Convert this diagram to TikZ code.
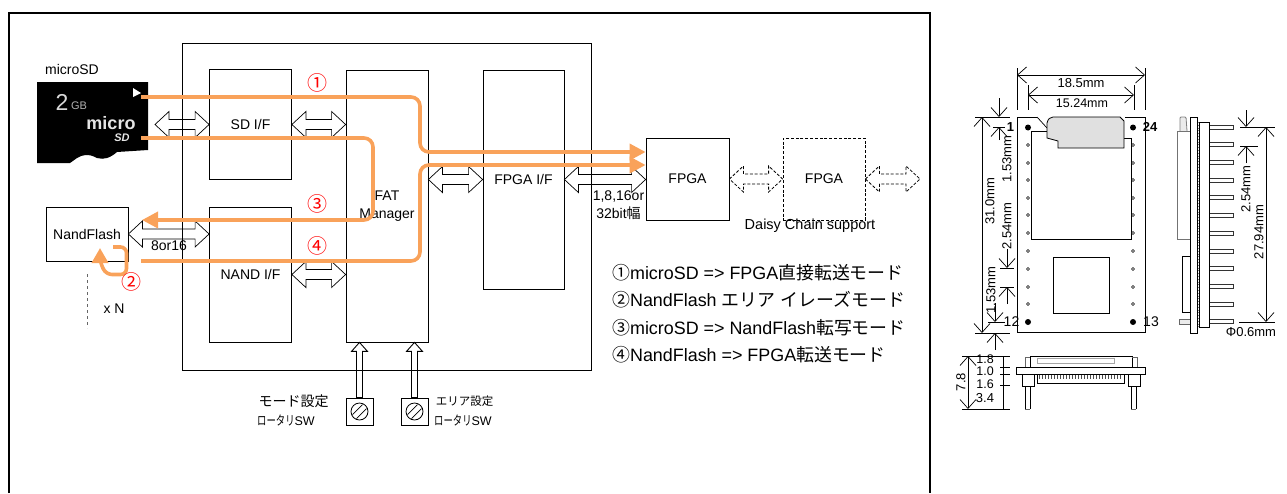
\documentclass[tikz,border=0pt]{standalone}
\usepackage{fontspec}
\setmainfont{Liberation Sans}
\newfontfamily\cjk{Noto Sans CJK JP}
\usetikzlibrary{arrows.meta,calc}
\definecolor{flow}{HTML}{F9A25A}
\newcommand\fs[1]{\fontsize{#1}{#1}\selectfont}
\newcommand\J[1]{{\cjk #1}}
\tikzset{
  box/.style={draw=black,line width=.8pt,inner sep=0pt,align=center,font=\fs{14}},
  lbl/.style={inner sep=0pt,align=center,font=\fs{14}},
  num/.style={inner sep=0pt,text=red,font=\cjk\fs{20}},
  legend/.style={inner sep=0pt,anchor=west,font=\fs{17.9}},
  flowline/.style={draw=flow,line width=3.6pt,rounded corners=9pt},
  flowhead/.style={flowline,-{Triangle[length=16pt,width=16pt]}},
  blockarrow/.style={draw=black,line width=.7pt},
  dashblock/.style={dash pattern=on 3pt off 1.8pt,line width=.8pt},
  dim/.style={line width=.7pt,draw=black},
  dimtip/.style={dim,-{Straight Barb[length=9pt,width=16pt]}},
  dimboth/.style={dim,{Straight Barb[length=9pt,width=16pt]}-{Straight Barb[length=9pt,width=16pt]}},
  dimtxt/.style={inner sep=0pt,font=\fs{13}},
  part/.style={draw=black,line width=.7pt},
}
\newcommand\dbl[3][]{\draw[blockarrow,#1] let \p1=(#2),\p2=(#3) in
  (\x1,\y1) -- ({\x1+14pt},{\y1+13pt}) -- ({\x1+14pt},{\y1+5pt}) -- ({\x2-14pt},{\y1+5pt}) -- ({\x2-14pt},{\y1+13pt})
  -- (\x2,\y1) -- ({\x2-14pt},{\y1-13pt}) -- ({\x2-14pt},{\y1-5pt}) -- ({\x1+14pt},{\y1-5pt}) -- ({\x1+14pt},{\y1-13pt}) -- cycle;}
\newcommand\uparr[2]{\draw[blockarrow,line width=.9pt] let \p1=(#1),\p2=(#2) in
  (\x2,\y2) -- ({\x2+8pt},{\y2-9pt}) -- ({\x2+3pt},{\y2-9pt}) -- ({\x2+3pt},\y1) -- ({\x2-3pt},\y1) -- ({\x2-3pt},{\y2-9pt}) -- ({\x2-8pt},{\y2-9pt}) -- cycle;}
\newcommand\rotlabel{\scalebox{.72}[1]{\J{\fs{13}ロータリ}}\fs{12.5}SW}
\begin{document}
\begin{tikzpicture}[x=1pt,y=-1pt]
\useasboundingbox (0,0) rectangle (1287,493);
% frame
\draw[line width=2pt] (8.5,493) -- (8.5,12.5) -- (930,12.5) -- (930,493);
% outer block
\node[box,minimum width=409pt,minimum height=327pt] (outer) at (386.5,206.5) {};
% blocks
\node[box,minimum width=82pt,minimum height=110pt] (sdif) at (250.5,124.5) {SD I/F};
\node[box,minimum width=82pt,minimum height=135pt] (nandif) at (250.5,274.5) {NAND I/F};
\node[box,minimum width=82pt,minimum height=272pt] (fat) at (387,206) {FAT\\[4pt]Manager};
\node[box,minimum width=81pt,minimum height=219pt] (fpgaif) at (523.5,179.5) {FPGA I/F};
\node[box,minimum width=83pt,minimum height=82pt] (fpga) at (687.5,179) {FPGA};
\node[box,dash pattern=on 3pt off 1.8pt,minimum width=82pt,minimum height=82pt] (fpgb) at (824,179) {FPGA};
\node[box,minimum width=82pt,minimum height=54pt] (flash) at (87,234) {NandFlash};
% microSD card
\node[lbl] (sdlabel) at (72,69) {microSD};
\fill[black] (37,82) -- (148,82) -- (148,150) -- (117,152) .. controls (110,158) and (104,160) .. (97,158)
  .. controls (88,153) and (82,155) .. (77,158) -- (70,163) -- (37,163) -- cycle;
\fill[white] (133,88) -- (141,93) -- (133,97) -- cycle;
\node[inner sep=0pt,text=white!85!black,font=\fs{23}] (cap2) at (62,102) {2};
\node[inner sep=0pt,text=white!70!black,font=\fs{11}] (capgb) at (79,106) {GB};
\node[inner sep=0pt,text=white!90!black,font=\bfseries\fs{18}] (capmicro) at (111,123.5) {micro};
\node[inner sep=0pt,text=white!90!black,font=\bfseries\itshape\fs{11}] (capsd) at (122,137.5) {SD};
% block arrows
\coordinate (sdedge) at (155,124.5);
\dbl{sdedge}{sdif.west}
\dbl{sdif.east}{fat.west|-sdif.east}
\dbl{flash.east}{nandif.west|-flash.east}
\dbl{nandif.east}{fat.west|-nandif.east}
\dbl{fat.east|-fpgaif.west}{fpgaif.west}
\dbl{fpgaif.east}{fpga.west}
\dbl[dashblock]{fpga.east}{fpgb.west}
\coordinate (chainend) at (920,179);
\dbl[dashblock]{fpgb.east}{chainend}
% labels
\node[lbl] (w8) at (169,246) {8or16};
\node[lbl] (w32) at (618.5,205) {1,8,16or\\[4pt]32bit\J{幅}};
\node[lbl,font=\fs{14.5}] (daisy) at (810,226) {Daisy Chain support};
\node[lbl] (xn) at (114,309) {x N};
\coordinate (na) at (87,274); \coordinate (nb) at (87,328);
\draw[dashed,draw=black!60,line width=.8pt] (na) -- (nb);
% orange flows
\coordinate (s1) at (141,97); \coordinate (b1) at (420,97); \coordinate (c1) at (420,152);
\draw[flowhead] (s1) -- (b1) -- (c1) -- (c1-|fpga.west);
\coordinate (s3) at (141,138); \coordinate (b3) at (373,138); \coordinate (c3) at (373,220); \coordinate (e3) at (142,220);
\draw[flowhead] (s3) -- (b3) -- (c3) -- (e3);
\coordinate (s4) at (141,261); \coordinate (b4) at (420,261); \coordinate (c4) at (420,165);
\draw[flowhead] (s4) -- (b4) -- (c4) -- (c4-|fpga.west);
\coordinate (s2) at (113,247); \coordinate (e2) at (100,248);
\draw[flowline,rounded corners=6pt,-{Triangle[length=15pt,width=16pt]}] (s2) -- (126.5,247) -- (126.5,274.5) -- (106,274.5) -- (100,262) -- (e2);
\node[num] (n1) at (317,83) {①};
\node[num] (n3) at (317,204) {③};
\node[num] (n4) at (317,246) {④};
\node[num] (n2) at (131,282) {②};
% legend
\node[legend] (l1) at (612,272.5) {\J{①}microSD => FPGA\J{直接転送モード}};
\node[legend] (l2) at (612,300) {\J{②}NandFlash \J{エリア\hspace{.3em}イレーズモード}};
\node[legend] (l3) at (612,327.5) {\J{③}microSD => NandFlash\J{転写モード}};
\node[legend] (l4) at (612,355) {\J{④}NandFlash => FPGA\J{転送モード}};
% rotary switches
\foreach \n/\x in {swa/359.5,swb/414.5}{
  \node[box,minimum width=27pt,minimum height=27pt] (\n) at (\x,411.5) {};
  \draw[line width=.8pt] (\n.center) circle (8.5pt);
  \draw[line width=.7pt] ($(\n.center)+(-7,3)$) -- ($(\n.center)+(3,-7)$);
  \draw[line width=.7pt] ($(\n.center)+(-3,7)$) -- ($(\n.center)+(7,-3)$);
}
\uparr{swa.north}{swa.north|-fat.south}
\uparr{swb.north}{swb.north|-fat.south}
\node[lbl,font=\cjk\fs{14}] (m1) at (293.5,401) {モード設定};
\node[lbl] (m2) at (286,420) {\rotlabel};
\node[lbl,font=\cjk\fs{11.5}] (a1) at (464.5,401) {エリア設定};
\node[lbl] (a2) at (463,420) {\rotlabel};
% ---- top view of module
\draw[part] (1037,117) -- (1017,117) -- (1017,332) -- (1145,332) -- (1145,117) -- (1125,117);
\draw[part] (1037,117) -- (1047,128);
\draw[part,line width=.8pt] (1047,131) -- (1031,131) -- (1031,239) -- (1131,239) -- (1131,138) -- (1124,138);
\draw[part,fill=black!12,line width=.8pt] (1047,123) .. controls (1048,119) and (1050,117) .. (1053,117) -- (1120,117) -- (1124,121) -- (1124,148) -- (1058,148) -- (1058,141) -- (1047,138) -- cycle;
\node[part,minimum width=56pt,minimum height=56pt,inner sep=0pt] (chip) at (1081,285) {};
\foreach \x in {1028,1133}{
  \foreach \y in {145,163,180,198,215,233,251,269,287,304}{\draw[line width=.6pt,fill=white] (\x,\y) circle (1.5pt);}
  \foreach \y in {127.5,322}{\fill (\x,\y) circle (3pt);}
}
\node[dimtxt,font=\bfseries\fs{13}] (p1) at (1010.5,127) {1};
\node[dimtxt,font=\bfseries\fs{13}] (p24) at (1150,127) {24};
\node[dimtxt,font=\fs{14}] (p12) at (1011.5,322) {12};
\node[dimtxt,font=\fs{14}] (p13) at (1151,322) {13};
% top dims
\draw[dim] (1017,68) -- (1017,110); \draw[dim] (1145,68) -- (1145,110);
\draw[dim] (1028,85) -- (1028,110); \draw[dim] (1134,85) -- (1134,110);
\draw[dimboth] (1017,75) -- (1145,75);
\draw[dimboth] (1028,95) -- (1134,95);
\node[dimtxt] (d185) at (1081,83) {18.5mm};
\node[dimtxt,font=\fs{12.5}] (d1524) at (1082,103) {15.24mm};
% left dims
\draw[dim] (975,117) -- (1010,117);
\draw[dim] (975,333) -- (1010,333);
\draw[dimboth] (982,117) -- (982,333);
\node[dimtxt,rotate=90] (d31) at (990,201) {31.0mm};
\draw[dim] (993,127) -- (1005,127);
\draw[dimtip] (999,98) -- (999,117);
\draw[dimtip] (999,140) -- (999,127);
\node[dimtxt,rotate=90] (d153a) at (1007,159) {1.53mm};
\node[dimtxt,rotate=90] (d254a) at (1007,226) {2.54mm};
\draw[dimtip] (1007,249) -- (1007,268);
\draw[dim] (1000,268) -- (1014,268);
\draw[dim] (1000,287) -- (1014,287);
\draw[dimtip] (1007,304) -- (1007,287);
\node[dimtxt,rotate=90] (d153b) at (991,290) {1.53mm};
\draw[dimtip] (995,303) -- (995,322);
\draw[dim] (988,322) -- (1005,322);
\draw[dimtip] (995,350) -- (995,333);
% front view
\draw[part] (1030,367) -- (1030,356) -- (1132,356) -- (1132,367);
\draw[draw=black!35,line width=.8pt] (1037,358) rectangle (1114,363);
\draw[part,line width=.9pt] (1016,367) rectangle (1145,374);
\draw[part,draw=black!60] (1025,367) -- (1025,357) -- (1030,357);
\draw[part,draw=black!60] (1132,357) -- (1137,357) -- (1137,367);
\draw[part] (1037,374) -- (1037,383) -- (1124,383) -- (1124,374);
\foreach \x in {1039,1042,...,1122}{\draw[line width=1pt,draw=black!70] (\x,375) -- (\x,379);}
\foreach \x in {1022,1128}{
  \draw[part] (\x,374) -- (\x,386) -- (\x+12,386) -- (\x+12,374);
  \draw[part] (\x+3,386) -- (\x+3,409); \draw[part] (\x+8,386) -- (\x+8,409);
  \draw[line width=.6pt,draw=black!60] (\x+3,409) -- (\x+8,409);
}
% height dims
\draw[dim] (962,356) -- (1010,356);
\draw[dim] (1000,367) -- (1010,367);
\draw[dim] (1000,374) -- (1010,374);
\draw[dim] (1000,385) -- (1010,385);
\draw[dim] (962,409) -- (1010,409);
\draw[dimboth] (968,356) -- (968,409);
\draw[dim] (1003,356) -- (1003,409);
\node[dimtxt,rotate=90] (d78) at (961,382) {7.8};
\node[dimtxt,font=\fs{12.5}] (d18) at (985,359.5) {1.8};
\node[dimtxt,font=\fs{12.5}] (d10) at (985,371) {1.0};
\node[dimtxt,font=\fs{12.5}] (d16) at (985,384) {1.6};
\node[dimtxt,font=\fs{13}] (d34) at (985,398) {3.4};
% side view
\draw[draw=black!50,line width=.8pt,rounded corners=1pt,fill=black!8] (1180,131) -- (1180,117) -- (1186,117) -- (1187,131);
\draw[draw=black!55,line width=1pt,fill=white] (1177,131) rectangle (1190,239);
\draw[part] (1182,256) rectangle (1190,312);
\draw[draw=black!60,line width=.7pt,fill=black!8] (1179,319) rectangle (1190,324);
\foreach \i in {0,...,11}{
  \draw[part,draw=black!80] (1209,{125+17.7*\i}) -- (1233,{125+17.7*\i}) -- (1233,{129+17.7*\i}) -- (1209,{129+17.7*\i});
}
\draw[draw=black!50,dotted,line width=.8pt] (1198,122) -- (1198,327);
\draw[part,fill=white] (1190,117) rectangle (1197,333);
\draw[part,fill=white] (1199,122) rectangle (1209,327);
% side dims
\draw[dim] (1240,127) -- (1275,127);
\draw[dim] (1239,322) -- (1275,322);
\draw[dimboth] (1266,127) -- (1266,322);
\draw[dimtip] (1246,110) -- (1246,127);
\draw[dim] (1240,146) -- (1258,146);
\draw[dimtip] (1246,163) -- (1246,146);
\node[dimtxt,rotate=90] (d254b) at (1246,189) {2.54mm};
\node[dimtxt,rotate=90] (d2794) at (1259,232) {27.94mm};
\node[dimtxt] (dphi) at (1251,332) {Φ0.6mm};
\end{tikzpicture}
\end{document}
